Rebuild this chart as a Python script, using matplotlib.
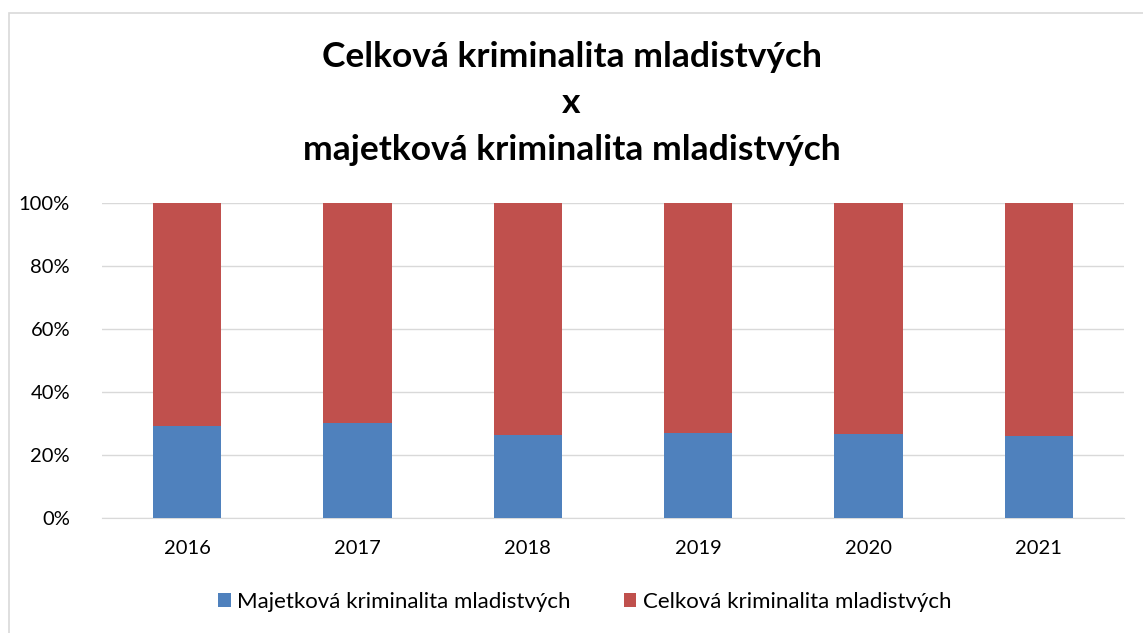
import numpy as np
import matplotlib.pyplot as plt
from matplotlib.patches import Rectangle

# Data
roky = ['2016', '2017', '2018', '2019', '2020', '2021']
majetkova = [29.1, 30.2, 26.3, 26.9, 26.6, 26.0]
celkova = [100 - v for v in majetkova]

modra = '#4F81BD'
cervena = '#C0504D'

plt.rcParams['font.family'] = ['Lato', 'DejaVu Sans']

fig = plt.figure(figsize=(11.43, 6.33), dpi=100)
ax = fig.add_axes([102 / 1143, 1 - 518 / 633, 1022 / 1143, 315 / 633])

x = np.arange(len(roky))
ax.bar(x, majetkova, width=0.4, color=modra, label='Majetková kriminalita mladistvých', zorder=3)
ax.bar(x, celkova, width=0.4, bottom=majetkova, color=cervena, label='Celková kriminalita mladistvých', zorder=3)

ax.set_xlim(-0.5, len(roky) - 0.5)
ax.set_ylim(0, 100)
ax.set_yticks(range(0, 101, 20))
ax.set_yticklabels([f'{v}%' for v in range(0, 101, 20)])
ax.set_xticks(x)
ax.set_xticklabels(roky)
ax.tick_params(axis='both', length=0, labelsize=14.5, colors='#000000')
ax.tick_params(axis='y', pad=23)
ax.tick_params(axis='x', pad=16)
ax.grid(axis='y', color='#d9d9d9', linewidth=1, zorder=0)
for s in ['top', 'right', 'left']:
    ax.spines[s].set_visible(False)
ax.spines['bottom'].set_color('#d9d9d9')

fig.text(0.5, 1 - 57 / 633, 'Celková kriminalita mladistvých', ha='center', va='center',
         fontsize=25.5, fontweight='bold')
fig.text(0.5, 1 - 103 / 633, 'x', ha='center', va='center', fontsize=25.5, fontweight='bold')
fig.text(0.5, 1 - 150 / 633, 'majetková kriminalita mladistvých', ha='center', va='center',
         fontsize=25.5, fontweight='bold')

fig.legend(loc='center', bbox_to_anchor=(585 / 1143, 1 - 602 / 633), ncol=2, frameon=False,
           fontsize=16, handlelength=0.55, handleheight=0.55, handletextpad=0.3, columnspacing=2.4)

# ramecek grafu
fig.patches.append(Rectangle((9 / 1143, -0.05), 1.2, 1 - 13 / 633 + 0.05, transform=fig.transFigure,
                             fill=False, edgecolor='#d9d9d9', linewidth=1.2))

fig.savefig('out.png', dpi=100)
